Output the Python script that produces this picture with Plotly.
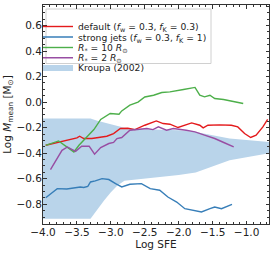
import plotly.graph_objects as go

# ---- data ----
default_x = [-3.96, -3.80, -3.65, -3.50, -3.46, -3.40, -3.28, -3.15, -3.06, -2.96, -2.86, -2.75,
             -2.645, -2.50, -2.33, -2.23, -2.13, -2.01, -1.90, -1.81, -1.69, -1.64, -1.57, -1.40,
             -1.225, -1.13, -1.03, -0.94, -0.86, -0.76, -0.69]
default_y = [-0.338, -0.318, -0.300, -0.280, -0.267, -0.285, -0.285, -0.275, -0.267, -0.246, -0.207, -0.205,
             -0.215, -0.181, -0.147, -0.168, -0.173, -0.199, -0.180, -0.163, -0.181, -0.202, -0.181, -0.178,
             -0.181, -0.194, -0.246, -0.277, -0.259, -0.194, -0.136]

jets_x = [-3.96, -3.79, -3.65, -3.52, -3.45, -3.40, -3.34, -3.30, -3.23, -3.13, -3.03, -2.93, -2.84,
          -2.72, -2.55, -2.42, -2.28, -2.16, -2.03, -1.91, -1.76, -1.665, -1.54, -1.47, -1.37, -1.215]
jets_y = [-0.748, -0.677, -0.680, -0.672, -0.665, -0.668, -0.659, -0.625, -0.617, -0.599, -0.606, -0.638, -0.664,
          -0.643, -0.638, -0.677, -0.690, -0.743, -0.782, -0.834, -0.847, -0.860, -0.834, -0.821, -0.834, -0.800]

r10_x = [-3.96, -3.77, -3.65, -3.545, -3.47, -3.37, -3.25, -3.15, -3.01, -2.88, -2.84, -2.72, -2.60,
         -2.50, -2.37, -2.25, -2.13, -1.93, -1.76, -1.69, -1.62, -1.54, -1.47, -1.34, -1.20, -1.05]
r10_y = [-0.338, -0.304, -0.350, -0.390, -0.338, -0.285, -0.215, -0.136, -0.089, -0.095, -0.069, -0.024, 0.000,
         0.040, 0.054, 0.075, 0.080, 0.099, 0.115, 0.054, 0.041, 0.054, 0.028, 0.020, 0.005, -0.011]

r2_x = [-3.89, -3.72, -3.64, -3.52, -3.43, -3.32, -3.24, -3.15, -3.03, -2.96, -2.91, -2.84, -2.72,
        -2.57, -2.47, -2.38, -2.30, -2.18, -2.08, -1.89, -1.76, -1.62, -1.47, -1.32, -1.19]
r2_y = [-0.528, -0.377, -0.351, -0.385, -0.345, -0.345, -0.408, -0.356, -0.324, -0.316, -0.285, -0.277, -0.220,
        -0.215, -0.207, -0.215, -0.194, -0.220, -0.207, -0.220, -0.233, -0.259, -0.285, -0.320, -0.351]

kroupa_x = [-4.0, -3.30, -3.20, -3.10, -3.00, -2.90, -2.80, -2.60, -2.00, -1.75, -1.50, -1.25, -0.67]
kroupa_hi = [-0.128, -0.128, -0.145, -0.160, -0.175, -0.190, -0.200, -0.210, -0.220, -0.233, -0.260, -0.285, -0.312]
kroupa_lo = [-0.912, -0.912, -0.840, -0.770, -0.705, -0.650, -0.615, -0.600, -0.570, -0.550, -0.505, -0.455, -0.400]

x_ticks = [-4.0, -3.5, -3.0, -2.5, -2.0, -1.5, -1.0]
y_ticks = [-0.8, -0.6, -0.4, -0.2, 0.0, 0.2, 0.4, 0.6]

names = [
    "default (<i>f</i><sub>w</sub> = 0.3, <i>f</i><sub>K</sub> = 0.3)",
    "strong jets (<i>f</i><sub>w</sub> = 0.3, <i>f</i><sub>K</sub> = 1)",
    "<i>R</i><sub>*</sub> = 10 <i>R</i><sub>⊙</sub>",
    "<i>R</i><sub>*</sub> = 2 <i>R</i><sub>⊙</sub>",
    "Kroupa (2002)",
]
colors = ["#e41a1c", "#377eb8", "#4daf4a", "#984ea3", "#b9d4ea"]

def fmt(v):
    return f"{v:.1f}".replace("-", "\u2212")

# plot area in pixels (figure is 274 x 254)
ML, MR, MT, MB = 43, 5, 5, 30
PW, PH = 274 - ML - MR, 254 - MT - MB
def px2paper(px, py):
    return (px - ML) / PW, (254 - MB - py) / PH

# legend row placement (pixels, empirically offset) and left position
row_py = [26.5, 37.0, 47.5, 57.7, 67.0]
leg_left_px = 38

fig = go.Figure()
fig.add_trace(go.Scatter(
    x=kroupa_x + kroupa_x[::-1], y=kroupa_hi + kroupa_lo[::-1],
    fill="toself", fillcolor=colors[4], line=dict(width=0, color=colors[4]),
    mode="lines", name=names[4], legend="legend5"))
series = [(default_x, default_y), (jets_x, jets_y), (r10_x, r10_y), (r2_x, r2_y)]
for i, (xs, ys) in enumerate(series):
    fig.add_trace(go.Scatter(x=xs, y=ys, mode="lines", name=names[i],
                             line=dict(color=colors[i], width=1.4),
                             legend="legend" if i == 0 else f"legend{i + 1}"))

axis_common = dict(
    showline=True, linecolor="#333", linewidth=1, mirror="allticks",
    ticks="inside", ticklen=3.5, tickwidth=0.8, tickcolor="#333",
    showgrid=False, zeroline=False,
    tickfont=dict(family="DejaVu Sans", size=10.5, color="#222"),
)
fig.update_xaxes(range=[-4.0, -0.67], tickvals=x_ticks, ticktext=[fmt(v) for v in x_ticks],
                 minor=dict(ticks="inside", ticklen=2, dtick=0.1, tick0=-4.0, tickcolor="#333"),
                 title=dict(text="Log SFE", font=dict(family="DejaVu Sans", size=10.5, color="#222"), standoff=2),
                 ticklabelstandoff=-2,
                 **axis_common)
fig.update_yaxes(range=[-0.954, 0.76], tickvals=y_ticks, ticktext=[fmt(v) for v in y_ticks],
                 minor=dict(ticks="inside", ticklen=2, dtick=0.05, tick0=0, tickcolor="#333"),
                 title=dict(text="Log <i>M</i><sub>mean</sub> [M<sub>⊙</sub>]",
                            font=dict(family="DejaVu Sans", size=10.5, color="#222"), standoff=2),
                 ticklabelstandoff=-2,
                 **axis_common)

leg_common = dict(xanchor="left", yanchor="middle", bgcolor="rgba(0,0,0,0)", borderwidth=0,
                  font=dict(family="DejaVu Sans", size=9.2, color="#222"), itemwidth=30)
legends = {}
for i, py in enumerate(row_py):
    lx, ly = px2paper(leg_left_px, py)
    legends["legend" if i == 0 else f"legend{i + 1}"] = dict(x=lx, y=ly, **leg_common)

bx0, by0 = px2paper(46, 63.5)
bx1, by1 = px2paper(211, 9.0)
fig.add_shape(type="rect", xref="paper", yref="paper", x0=bx0, y0=by0, x1=bx1, y1=by1,
              line=dict(color="#d0d0d0", width=1), fillcolor="rgba(255,255,255,0.8)", layer="below")

fig.update_layout(
    width=274, height=254,
    margin=dict(l=ML, r=MR, t=MT, b=MB),
    plot_bgcolor="white", paper_bgcolor="white",
    font=dict(family="DejaVu Sans", color="#222"),
    showlegend=True,
    **legends,
)
fig.write_html("out.html", config={"displayModeBar": False},
               post_script="document.body.style.margin='0';")
